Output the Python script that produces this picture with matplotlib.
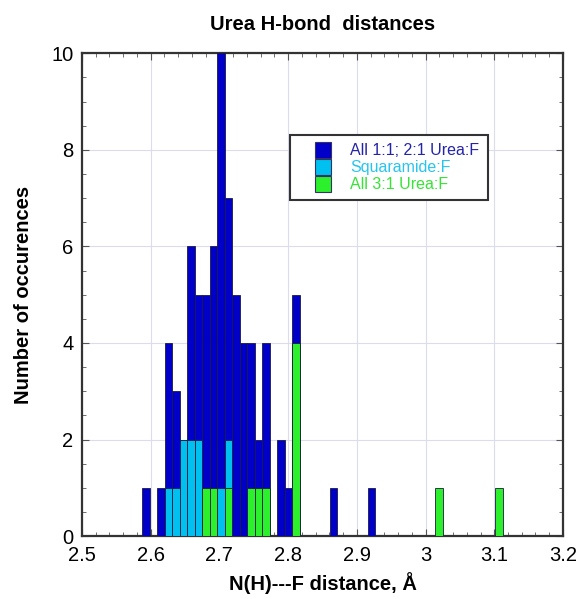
import numpy as np
import matplotlib
matplotlib.use("Agg")
import matplotlib.pyplot as plt
from matplotlib.ticker import MultipleLocator
from matplotlib.lines import Line2D

plt.rcParams["font.family"] = ["Liberation Sans", "DejaVu Sans"]

# histogram bins: 64 bins over 2.5 - 3.2
bin_edges = np.linspace(2.5, 3.2, 65)

# All 1:1; 2:1 Urea:F (bin centre, count)
urea_dist = [2.593, 2.615, 2.626, 2.637, 2.648, 2.659, 2.670, 2.681, 2.691, 2.702, 2.713,
             2.724, 2.735, 2.746, 2.757, 2.768, 2.790, 2.801, 2.812, 2.866, 2.921]
urea_count = [1, 1, 4, 3, 2, 6, 5, 5, 6, 10, 7, 5, 4, 4, 2, 4, 2, 1, 5, 1, 1]

# Squaramide:F
squar_dist = [2.626, 2.637, 2.648, 2.659, 2.670, 2.702, 2.713]
squar_count = [1, 1, 2, 2, 2, 1, 2]

# All 3:1 Urea:F
urea31_dist = [2.681, 2.691, 2.713, 2.746, 2.757, 2.768, 2.812, 3.019, 3.107]
urea31_count = [1, 1, 1, 1, 1, 1, 4, 1, 1]

x_ticklabels = ["2.5", "2.6", "2.7", "2.8", "2.9", "3", "3.1", "3.2"]
names = ["All 1:1; 2:1 Urea:F", "Squaramide:F", "All 3:1 Urea:F"]
colors = ["#0000c8", "#00c0f0", "#2cf02c"]
text_colors = ["#2424a8", "#28c4ee", "#38e238"]

fig = plt.figure(figsize=(5.81, 5.99), dpi=100)
ax = fig.add_axes([0.141, 0.105, 0.828, 0.806])

for d, w, c, n, z in zip([urea_dist, squar_dist, urea31_dist],
                         [urea_count, squar_count, urea31_count],
                         colors, names, [3, 4, 5]):
    ax.hist(d, bins=bin_edges, weights=w, color=c, edgecolor="#1a1a40",
            linewidth=0.6, label=n, zorder=z)

ax.set_xlim(2.5, 3.2)
ax.set_ylim(0, 10)
ax.set_xticks(np.arange(2.5, 3.21, 0.1))
ax.set_xticklabels(x_ticklabels)
ax.xaxis.set_minor_locator(MultipleLocator(0.02))
ax.yaxis.set_major_locator(MultipleLocator(2))
ax.yaxis.set_minor_locator(MultipleLocator(0.5))
ax.tick_params(which="both", direction="in", top=True, right=True, color="#555555")
ax.tick_params(which="major", length=5, labelsize=14.5)
ax.tick_params(axis="x", which="major", pad=7)
ax.tick_params(axis="y", which="major", pad=6)
ax.tick_params(which="minor", length=3)
ax.grid(True, which="major", color="#dcdcf0", linewidth=0.8, zorder=0)
ax.set_axisbelow(True)
for s in ax.spines.values():
    s.set_linewidth(1.6)
    s.set_color("#333333")

ax.set_title("Urea H-bond  distances", fontsize=14.5, fontweight="bold", pad=17)
ax.set_xlabel("N(H)---F distance, Å", fontsize=14.5, fontweight="bold", labelpad=5)
ax.set_ylabel("Number of occurences", fontsize=14.5, fontweight="bold", labelpad=13)

handles = [Line2D([], [], linestyle="none", marker="s", markersize=11,
                  markerfacecolor=c, markeredgecolor="#333366", markeredgewidth=0.8)
           for c in colors]
leg = ax.legend(handles, names, loc="upper left", bbox_to_anchor=(0.432, 0.83),
                fontsize=11.5, fancybox=False, framealpha=1, edgecolor="#333333",
                handlelength=3.2, handletextpad=0.1, labelspacing=0.12,
                borderpad=0.5, borderaxespad=0)
leg.get_frame().set_linewidth(1.5)
for txt, c in zip(leg.get_texts(), text_colors):
    txt.set_color(c)

fig.savefig("out.png", dpi=100)
